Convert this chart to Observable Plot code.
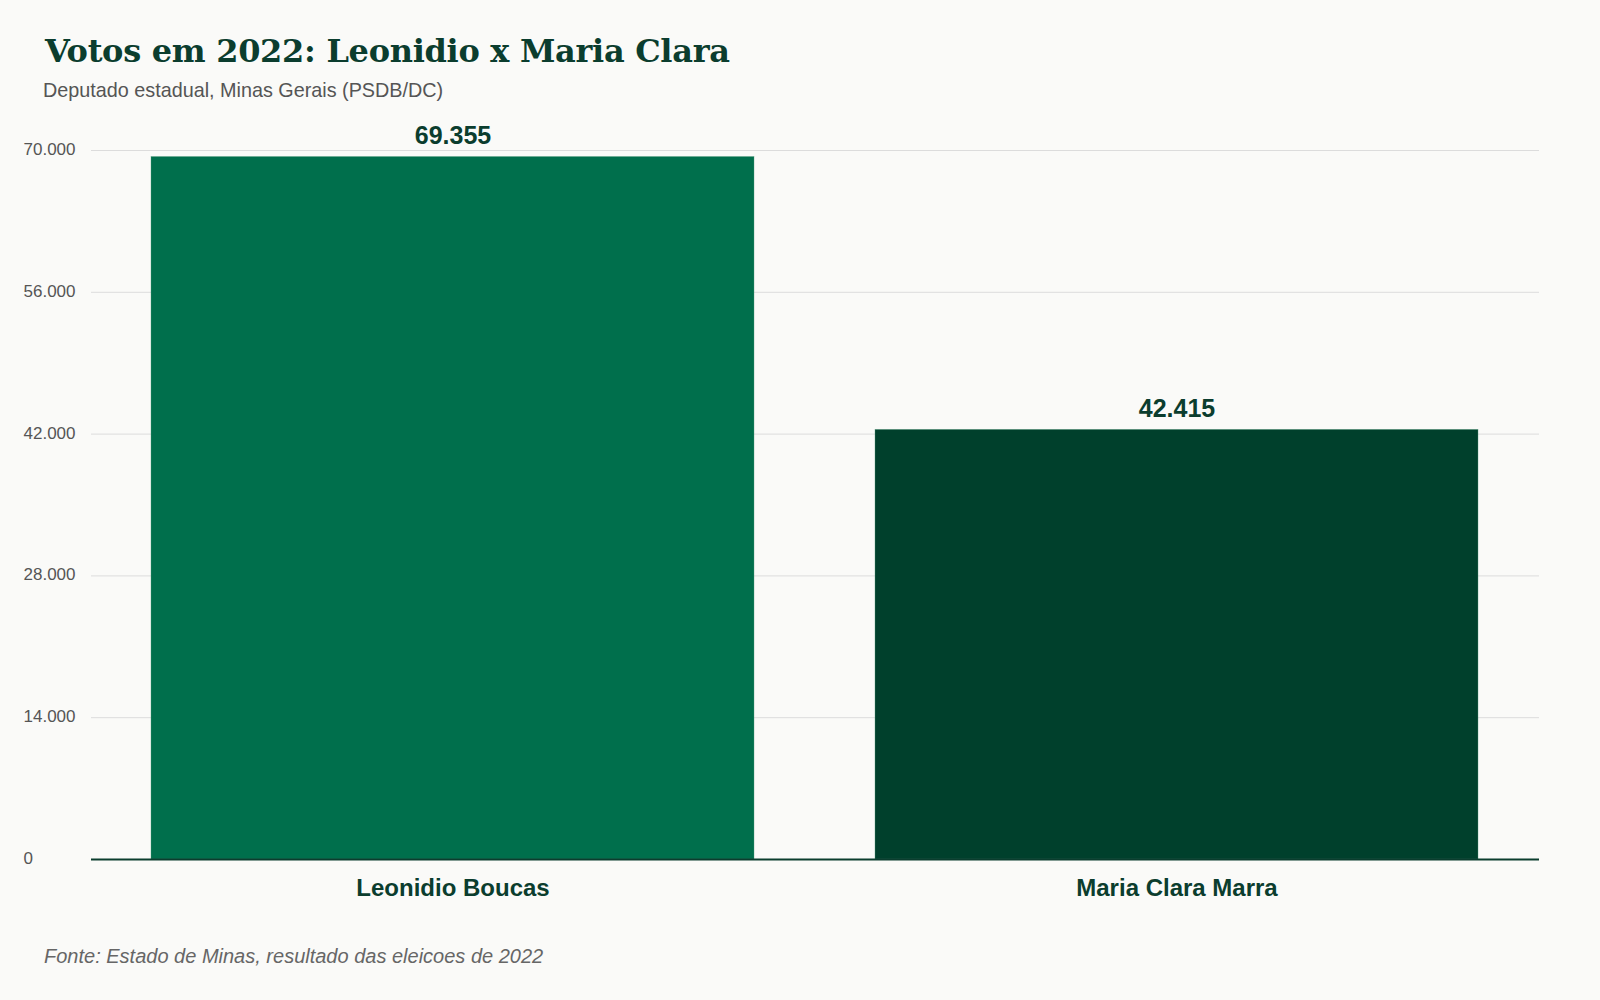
<!DOCTYPE html>
<html>
<head>
<meta charset="utf-8">
<script src="https://cdn.jsdelivr.net/npm/d3@7"></script>
<script src="https://cdn.jsdelivr.net/npm/@observablehq/plot@0.6"></script>
<style>
  html, body { margin: 0; padding: 0; background: #FAFAF8; }
  #wrap { position: relative; width: 1600px; height: 1000px; overflow: hidden; }
  #title { position: absolute; left: 45px; top: 31px; font-family: "DejaVu Serif", serif; font-weight: bold; font-size: 32px; line-height: 40px; color: #0B3D2E; white-space: nowrap; letter-spacing: -0.3px; }
  #subtitle { position: absolute; left: 43px; top: 78px; font-family: "Liberation Sans", Arial, sans-serif; font-size: 19.8px; line-height: 24px; color: #555; white-space: nowrap; }
  #chart { position: absolute; left: 0; top: 100px; }
  #caption { position: absolute; left: 44px; top: 944px; font-family: "Liberation Sans", Arial, sans-serif; font-style: italic; font-size: 20px; line-height: 24px; color: #666; white-space: nowrap; }
</style>
</head>
<body>
<div id="wrap">
  <div id="title">Votos em 2022: Leonidio x Maria Clara</div>
  <div id="subtitle">Deputado estadual, Minas Gerais (PSDB/DC)</div>
  <div id="chart"></div>
  <div id="caption">Fonte: Estado de Minas, resultado das eleicoes de 2022</div>
</div>
<script>
const candidates = ["Leonidio Boucas", "Maria Clara Marra"];
const votes = [69355, 42415];
const barColors = ["#006F4C", "#00402C"];
const yTicks = [0, 14000, 28000, 42000, 56000, 70000];

const data = candidates.map((c, i) => ({candidate: c, votes: votes[i], color: barColors[i]}));
const fmt = d => d3.format(",")(d).replace(/,/g, ".");

const chart = Plot.plot({
  width: 1600,
  height: 820,
  marginTop: 50,
  marginBottom: 61,
  marginLeft: 91,
  marginRight: 61,
  style: { background: "transparent", fontFamily: "'Liberation Sans', Arial, sans-serif" },
  x: { domain: candidates, paddingInner: 0.167, paddingOuter: 0.083, label: null },
  y: { domain: [0, 70000], label: null },
  marks: [
    Plot.gridY(yTicks, { stroke: "#dcdcdc", strokeOpacity: 1, strokeWidth: 1 }),
    Plot.axisY(yTicks, { tickSize: 0, tickPadding: 0, textAnchor: "start", dx: -68, dy: -1, tickFormat: fmt, fontSize: 17, fill: "#555", label: null }),
    Plot.barY(data, { x: "candidate", y: "votes", fill: "color", stroke: "#4f9b7c", strokeWidth: 0.6, strokeOpacity: 0.6 }),
    Plot.ruleY([0], { stroke: "#0B3D2E", strokeWidth: 2 }),
    Plot.axisX({ tickSize: 0, tickPadding: 19, fontSize: 24, fontWeight: "bold", fill: "#0B3D2E", label: null }),
    Plot.text(data, { x: "candidate", y: "votes", text: d => fmt(d.votes), lineAnchor: "bottom", dy: -13, fontSize: 25, fontWeight: "bold", fill: "#0B3D2E" })
  ]
});
document.getElementById("chart").appendChild(chart);
</script>
</body>
</html>
